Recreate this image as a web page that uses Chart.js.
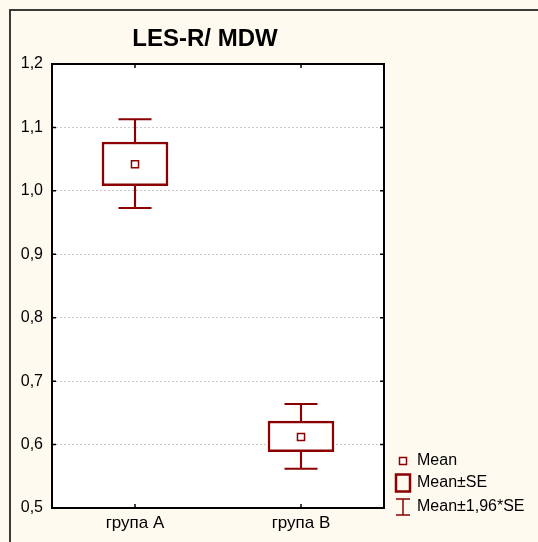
<!DOCTYPE html>
<html>
<head>
<meta charset="utf-8">
<script src="https://cdn.jsdelivr.net/npm/chart.js@4"></script>
<style>
	html, body {
		margin: 0;
		padding: 0;
		background: #fffaf0;
	}
	canvas {
		display: block;
	}
</style>
</head>
<body>
<canvas id="chart" width="538" height="542"></canvas>
<script>
	// values
	var categories = ['група A', 'група B'];
	var means = [1.042, 0.612];
	var seLower = [1.008, 0.589];
	var seUpper = [1.077, 0.637];
	var ciLower = [0.973, 0.562];
	var ciUpper = [1.113, 0.664];
	var yTicks = [0.5, 0.6, 0.7, 0.8, 0.9, 1.0, 1.1, 1.2];
	var titleText = 'LES-R/ MDW';

	var darkRed = '#8b0000';
	var font = 'Arial, "Liberation Sans", sans-serif';

	var framePlugin = {
		id: 'frame',
		beforeDraw: function(chart) {
			var ctx = chart.ctx;
			var a = chart.chartArea;
			ctx.save();
			ctx.fillStyle = '#fffaf0';
			ctx.fillRect(0, 0, chart.width, chart.height);
			// outer panel border (left and top only are visible)
			ctx.strokeStyle = '#3a3a3a';
			ctx.lineWidth = 2;
			ctx.beginPath();
			ctx.moveTo(10, chart.height);
			ctx.lineTo(10, 10);
			ctx.lineTo(chart.width, 10);
			ctx.stroke();
			ctx.fillStyle = '#ffffff';
			ctx.fillRect(a.left, a.top, a.right - a.left, a.bottom - a.top);
			ctx.restore();
		},
		afterDatasetsDraw: function(chart) {
			var ctx = chart.ctx;
			var a = chart.chartArea;
			var x = chart.scales.x;
			var y = chart.scales.y;
			ctx.save();
			ctx.strokeStyle = '#000';
			ctx.lineWidth = 2;
			ctx.strokeRect(a.left, a.top, a.right - a.left, a.bottom - a.top);
			ctx.lineWidth = 1.5;
			ctx.beginPath();
			y.ticks.forEach(function(t, i) {
				var py = y.getPixelForTick(i);
				ctx.moveTo(a.left, py); ctx.lineTo(a.left + 4, py);
				ctx.moveTo(a.right, py); ctx.lineTo(a.right - 4, py);
			});
			x.ticks.forEach(function(t, i) {
				var px = x.getPixelForTick(i);
				ctx.moveTo(px, a.top); ctx.lineTo(px, a.top + 4);
				ctx.moveTo(px, a.bottom); ctx.lineTo(px, a.bottom - 4);
			});
			ctx.stroke();

			// title
			ctx.fillStyle = '#000';
			ctx.font = 'bold 24px ' + font;
			ctx.textAlign = 'center';
			ctx.textBaseline = 'alphabetic';
			ctx.fillText(titleText, (a.left + a.right) / 2 - 13, a.top - 18);

			// legend
			var lx = a.right + 12;
			var tx = a.right + 33;
			ctx.font = '16px ' + font;
			ctx.textBaseline = 'middle';
			ctx.textAlign = 'left';
			ctx.strokeStyle = darkRed;

			var y1 = a.bottom - 47;
			ctx.lineWidth = 1.5;
			ctx.fillStyle = '#fff';
			ctx.fillRect(lx + 3.5, y1 - 3.5, 7, 7);
			ctx.strokeRect(lx + 3.5, y1 - 3.5, 7, 7);
			ctx.fillStyle = '#000';
			ctx.fillText('Mean', tx, y1);

			var y2 = a.bottom - 25;
			ctx.lineWidth = 2.5;
			ctx.strokeRect(lx, y2 - 8.5, 14, 17);
			ctx.fillText('Mean±SE', tx, y2);

			var y3 = a.bottom - 1;
			ctx.lineWidth = 1.5;
			ctx.beginPath();
			ctx.moveTo(lx + 7, y3 - 8); ctx.lineTo(lx + 7, y3 + 8);
			ctx.moveTo(lx, y3 - 8); ctx.lineTo(lx + 14, y3 - 8);
			ctx.moveTo(lx, y3 + 8); ctx.lineTo(lx + 14, y3 + 8);
			ctx.stroke();
			ctx.fillText('Mean±1,96*SE', tx, y3);
			ctx.restore();
		}
	};

	function pairs(lo, hi) {
		return lo.map(function(v, i) { return [v, hi[i]]; });
	}

	new Chart(document.getElementById('chart'), {
		type: 'bar',
		data: {
			labels: categories,
			datasets: [
				{
					label: 'Mean±1,96*SE',
					data: pairs(ciLower, ciUpper),
					backgroundColor: darkRed,
					borderWidth: 0,
					barThickness: 1.5,
					grouped: false,
					order: 5
				},
				{
					label: 'Mean±SE',
					data: pairs(seLower, seUpper),
					backgroundColor: '#ffffff',
					borderColor: darkRed,
					borderWidth: 2.5,
					borderSkipped: false,
					barThickness: 66,
					grouped: false,
					order: 4
				},
				{
					type: 'line',
					label: 'upper',
					data: ciUpper,
					showLine: false,
					pointStyle: 'line',
					pointRadius: 16.5,
					pointHoverRadius: 16.5,
					pointBorderWidth: 2,
					pointBorderColor: darkRed,
					order: 2
				},
				{
					type: 'line',
					label: 'lower',
					data: ciLower,
					showLine: false,
					pointStyle: 'line',
					pointRadius: 16.5,
					pointHoverRadius: 16.5,
					pointBorderWidth: 2,
					pointBorderColor: darkRed,
					order: 2
				},
				{
					type: 'line',
					label: 'Mean',
					data: means,
					showLine: false,
					pointStyle: 'rect',
					pointRadius: 5,
					pointHoverRadius: 5,
					pointBorderWidth: 1.5,
					pointBorderColor: darkRed,
					pointBackgroundColor: '#ffffff',
					order: 1
				}
			]
		},
		options: {
			responsive: false,
			animation: false,
			layout: {
				padding: { top: 64, right: 154, bottom: 0, left: 10 }
			},
			plugins: {
				legend: { display: false },
				tooltip: { enabled: false },
				title: { display: false }
			},
			scales: {
				x: {
					offset: true,
					grid: { display: false, drawTicks: false },
					border: { display: false },
					ticks: {
						color: '#000',
						padding: 5,
						font: { family: font, size: 17 }
					},
					afterFit: function(scale) { scale.height = 34; }
				},
				y: {
					min: 0.5,
					max: 1.2,
					afterBuildTicks: function(scale) {
						scale.ticks = yTicks.map(function(v) { return { value: v }; });
					},
					grid: {
						color: '#c8c8c8',
						drawTicks: false
					},
					border: { display: false, dash: [2, 2] },
					ticks: {
						color: '#000',
						padding: 9,
						font: { family: font, size: 16 },
						callback: function(v) { return v.toFixed(1).replace('.', ','); }
					},
					afterFit: function(scale) { scale.width = 42; }
				}
			}
		},
		plugins: [framePlugin]
	});
</script>
</body>
</html>
